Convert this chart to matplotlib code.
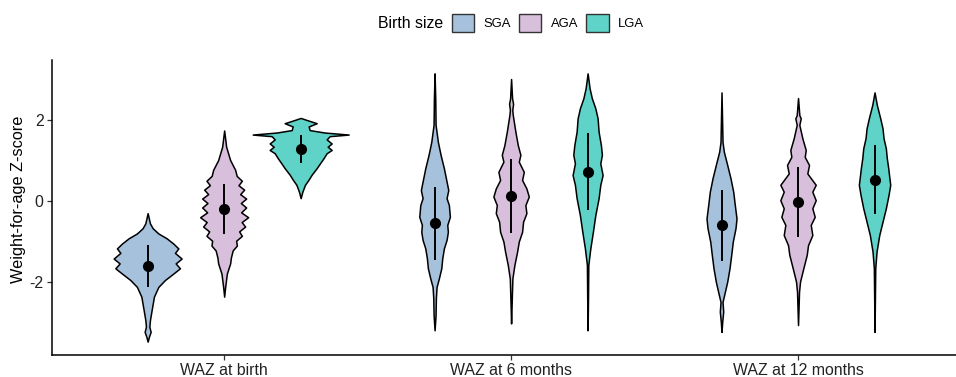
import numpy as np
import matplotlib
matplotlib.use("Agg")
from matplotlib import pyplot as plt
from matplotlib.patches import Patch

plt.rcParams['font.family'] = ['Liberation Sans', 'DejaVu Sans']
plt.rcParams['axes.unicode_minus'] = False

timepoints = ["WAZ at birth", "WAZ at 6 months", "WAZ at 12 months"]
sizes = ["SGA", "AGA", "LGA"]
colors = ["#A6C1DC", "#D8BFDC", "#5FD3C8"]

# mean and sd of each group (time x size)
means = [[-1.60, -0.20, 1.28],
         [-0.55, 0.12, 0.72],
         [-0.60, -0.02, 0.53]]
sds = [[0.51, 0.61, 0.35],
       [0.90, 0.92, 0.95],
       [0.88, 0.87, 0.86]]

# violin outlines: z-score and density (arbitrary units)
z_birth_sga = [-0.30, -0.55, -0.67, -0.80, -0.92, -1.05, -1.17, -1.28, -1.42, -1.54, -1.66,
               -1.79, -1.95, -2.12, -2.36, -2.69, -2.94, -3.10, -3.23, -3.35, -3.47]
d_birth_sga = [0, 2.3, 5, 10.7, 19, 25.7, 30.7, 27.3, 34, 28, 32.3,
               25.7, 17.3, 10.7, 6.3, 4, 2.3, 1.7, 3, 1.3, 0]

z_birth_aga = [1.74, 1.34, 1.01, 0.77, 0.62, 0.50, 0.39, 0.28, 0.17, 0.06, -0.05, -0.16, -0.28,
               -0.40, -0.52, -0.63, -0.75, -0.86, -0.98, -1.10, -1.22, -1.40, -1.54, -1.79, -2.12, -2.36]
d_birth_aga = [0, 2, 6, 11, 12.5, 17.7, 14.3, 20, 16, 22, 16.7, 22, 17,
               24, 17.5, 21, 15, 17.7, 12, 12.7, 8.5, 6.7, 6, 2.7, 1, 0]

z_birth_lga = [2.05, 2.00, 1.92, 1.84, 1.75, 1.69, 1.64, 1.60, 1.52, 1.42, 1.34, 1.26, 1.18,
               1.05, 0.93, 0.81, 0.65, 0.52, 0.40, 0.23, 0.07]
d_birth_lga = [0, 6, 16, 8, 9, 24, 48, 29, 26, 31, 27, 31, 26,
               22.7, 19.3, 16, 11, 7.7, 4.3, 1.7, 0]

z_6m_sga = [3.15, 2.50, 1.88, 1.46, 1.14, 0.81, 0.48, 0.27, 0.07, -0.10, -0.39, -0.59, -0.76,
            -0.96, -1.17, -1.41, -1.66, -1.91, -2.12, -2.40, -2.81, -3.19]
d_6m_sga = [0, 0.7, 1, 3.3, 6, 9.3, 12, 13.7, 12, 14.3, 15.3, 12.7, 13.3,
            12, 9.3, 7.7, 6.7, 4.3, 2, 1.3, 1, 0]

z_6m_aga = [3.01, 2.53, 2.40, 2.25, 2.12, 1.71, 1.38, 1.14, 0.97, 0.72, 0.52, 0.31, 0.11, -0.10,
            -0.30, -0.51, -0.76, -1.00, -1.25, -1.58, -1.91, -2.40, -3.02]
d_6m_aga = [0, 1, 2, 1.2, 1.7, 4.3, 6.7, 9.3, 7.7, 12.7, 11, 15.3, 17.7, 14.3,
            15.3, 12, 11, 7.7, 6, 3.3, 1.3, 0.7, 0]

z_6m_lga = [3.15, 2.78, 2.53, 2.29, 2.04, 1.71, 1.38, 1.14, 0.93, 0.64, 0.40, 0.07, -0.35,
            -0.76, -1.17, -1.58, -2.40, -3.19]
d_6m_lga = [0, 2, 4.3, 7.7, 10, 11, 13.3, 14.3, 12.7, 15, 12.7, 11, 7.7,
            5.3, 2.7, 0.7, 0.4, 0]

z_12m_sga = [2.68, 1.46, 1.22, 0.89, 0.56, 0.23, -0.10, -0.43, -0.67, -1.00, -1.33, -1.66,
             -1.99, -2.28, -2.49, -2.73, -2.98, -3.23]
d_12m_sga = [0, 1, 2.3, 5.7, 9, 11.7, 13.3, 15, 14, 11.3, 9.7, 8,
             5.7, 3, 1, 1.7, 0.7, 0]

z_12m_aga = [2.54, 2.12, 2.04, 1.88, 1.55, 1.26, 1.09, 0.89, 0.68, 0.40, 0.23, 0.02, -0.18,
             -0.39, -0.59, -0.84, -1.09, -1.33, -1.66, -1.99, -2.24, -3.06]
d_12m_aga = [0, 1.3, 2.7, 1.3, 4.3, 7.7, 6.7, 11, 9.3, 17.7, 14.3, 17.7, 14.3,
             16.7, 12.7, 14.3, 10, 8.7, 5.3, 2, 1, 0]

z_12m_lga = [2.68, 2.37, 2.04, 1.79, 1.55, 1.30, 1.05, 0.81, 0.60, 0.40, 0.15, -0.18, -0.51,
             -0.84, -1.25, -1.66, -3.23]
d_12m_lga = [0, 2.3, 5.7, 8, 9, 11.3, 12.3, 13.7, 14.7, 15.7, 14, 11.3, 8,
             4.7, 2, 0.7, 0]

profiles = [[(z_birth_sga, d_birth_sga), (z_birth_aga, d_birth_aga), (z_birth_lga, d_birth_lga)],
            [(z_6m_sga, d_6m_sga), (z_6m_aga, d_6m_aga), (z_6m_lga, d_6m_lga)],
            [(z_12m_sga, d_12m_sga), (z_12m_aga, d_12m_aga), (z_12m_lga, d_12m_lga)]]

fig = plt.figure(figsize=(9.56, 3.77), dpi=100)
ax = fig.add_axes([52 / 956, 1 - 355 / 377, 1 - 52 / 956, (355 - 60) / 377])

dodge = 0.8 / 3
scale = 1 / 287  # half-width (x units) per density unit, same for all (area scaling)

for i in range(3):
    for j in range(3):
        z, d = profiles[i][j]
        x = i + 1 + (j - 1) * dodge
        st = [dict(coords=np.array(z), vals=np.array(d, dtype=float), mean=means[i][j],
                   median=means[i][j], min=min(z), max=max(z))]
        parts = ax.violin(st, positions=[x], widths=[2 * max(d) * scale],
                          showmeans=False, showextrema=False, showmedians=False)
        for b in parts['bodies']:
            b.set_facecolor(colors[j])
            b.set_edgecolor('black')
            b.set_linewidth(1.1)
            b.set_joinstyle('round')
            b.set_alpha(1)
        ax.vlines(x, means[i][j] - sds[i][j], means[i][j] + sds[i][j], color='black', lw=1.4, zorder=3)
        ax.plot(x, means[i][j], 'o', color='black', ms=7, zorder=4)

ax.set_xlim(0.4, 1 + (956 - 224) / 287)
ax.set_ylim(-3.80, 3.48)
ax.set_yticks([-2, 0, 2])
ax.set_xticks([1, 2, 3])
ax.set_xticklabels(timepoints)
ax.set_ylabel("Weight-for-age Z-score", fontsize=11.7)
ax.yaxis.set_label_coords(-(52 - 26) / 904, (355 - 199) / 295)
ax.tick_params(labelsize=11.4, length=3.5, width=0.9, color='#333333', labelcolor='#222222', pad=2.5)
for s in ['top', 'right']:
    ax.spines[s].set_visible(False)
for s in ['left', 'bottom']:
    ax.spines[s].set_linewidth(1.1)

handles = [Patch(facecolor=c, edgecolor='#333333', linewidth=1) for c in colors]
fig.text(378 / 956, 1 - 23 / 377, "Birth size", fontsize=11.4, ha='left', va='center')
fig.legend(handles, sizes, ncol=3, loc='center', bbox_to_anchor=(548 / 956, 1 - 23 / 377),
           frameon=False, fontsize=9.4, handlelength=1.69, handleheight=1.69,
           handletextpad=0.7, columnspacing=0.65, borderpad=0, borderaxespad=0)

fig.savefig("out.png", dpi=100)
